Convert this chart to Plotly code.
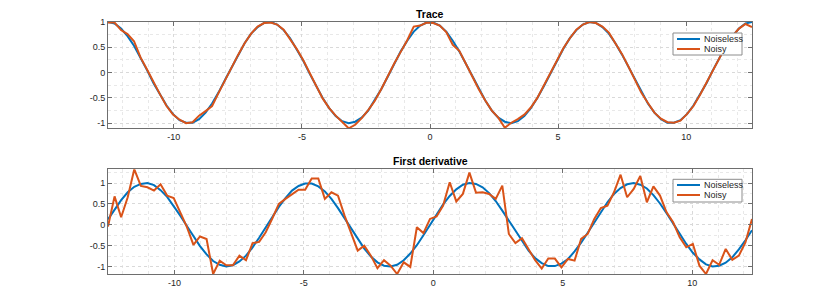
import numpy as np
import plotly.graph_objects as go

# ---------------- data ----------------
trace_x = np.linspace(-4 * np.pi, 4 * np.pi, 100)

trace_noiseless = [1.00, 0.97, 0.87, 0.72, 0.53, 0.30, 0.05, -0.21, -0.44, -0.65,
                   -0.82, -0.94, -0.99, -0.99, -0.92, -0.79, -0.61, -0.39, -0.14, 0.11,
                   0.36, 0.58, 0.77, 0.90, 0.98, 1.00, 0.95, 0.84, 0.68, 0.47,
                   0.24, -0.02, -0.27, -0.50, -0.70, -0.86, -0.96, -1.00, -0.97, -0.89,
                   -0.75, -0.55, -0.33, -0.08, 0.17, 0.42, 0.63, 0.81, 0.93, 0.99,
                   0.99, 0.93, 0.81, 0.63, 0.42, 0.17, -0.08, -0.33, -0.55, -0.75,
                   -0.89, -0.97, -1.00, -0.96, -0.86, -0.70, -0.50, -0.27, -0.02, 0.24,
                   0.47, 0.68, 0.84, 0.95, 1.00, 0.98, 0.90, 0.77, 0.58, 0.36,
                   0.11, -0.14, -0.39, -0.61, -0.79, -0.92, -0.99, -0.99, -0.94, -0.82,
                   -0.65, -0.44, -0.21, 0.05, 0.30, 0.53, 0.72, 0.87, 0.97, 1.00]

trace_noisy = [0.99, 0.99, 0.84, 0.76, 0.62, 0.30, 0.06, -0.20, -0.43, -0.66,
               -0.83, -0.93, -1.00, -0.98, -0.85, -0.76, -0.66, -0.40, -0.14, 0.12,
               0.35, 0.58, 0.77, 0.91, 0.98, 0.99, 0.95, 0.85, 0.67, 0.47,
               0.25, -0.02, -0.26, -0.51, -0.70, -0.85, -0.98, -1.10, -1.03, -0.90,
               -0.74, -0.56, -0.33, -0.07, 0.18, 0.41, 0.64, 0.91, 0.93, 0.99,
               0.98, 0.93, 0.80, 0.55, 0.43, 0.18, -0.08, -0.33, -0.55, -0.75,
               -0.89, -1.09, -0.99, -0.92, -0.83, -0.69, -0.50, -0.26, -0.01, 0.24,
               0.48, 0.68, 0.85, 0.95, 1.00, 0.98, 0.91, 0.79, 0.59, 0.37,
               0.12, -0.15, -0.40, -0.60, -0.79, -0.91, -0.98, -0.99, -0.95, -0.82,
               -0.66, -0.44, -0.20, 0.05, 0.30, 0.53, 0.72, 0.87, 0.96, 0.90]

deriv_x = trace_x[:-1]

deriv_noiseless = [0.13, 0.37, 0.59, 0.78, 0.91, 0.98, 1.00, 0.95, 0.83, 0.67,
                   0.46, 0.22, -0.03, -0.28, -0.51, -0.71, -0.87, -0.96, -1.00, -0.97,
                   -0.88, -0.74, -0.54, -0.31, -0.06, 0.19, 0.43, 0.64, 0.82, 0.93,
                   0.99, 0.99, 0.92, 0.80, 0.62, 0.40, 0.16, -0.10, -0.34, -0.57,
                   -0.76, -0.90, -0.98, -1.00, -0.96, -0.85, -0.69, -0.49, -0.25, 0.00,
                   0.25, 0.49, 0.69, 0.85, 0.96, 1.00, 0.98, 0.90, 0.76, 0.57,
                   0.34, 0.10, -0.16, -0.40, -0.62, -0.80, -0.92, -0.99, -0.99, -0.93,
                   -0.82, -0.64, -0.43, -0.19, 0.06, 0.31, 0.54, 0.74, 0.88, 0.97,
                   1.00, 0.96, 0.87, 0.71, 0.51, 0.28, 0.03, -0.22, -0.46, -0.67,
                   -0.83, -0.95, -1.00, -0.98, -0.91, -0.78, -0.59, -0.37, -0.13]

deriv_noisy = [-0.04, 0.68, 0.18, 0.66, 1.33, 0.93, 0.90, 0.82, 0.97, 0.70,
               0.64, 0.28, -0.05, -0.48, -0.28, -0.34, -1.18, -0.86, -0.97, -0.97,
               -0.74, -0.85, -0.44, -0.41, -0.18, 0.15, 0.50, 0.62, 0.74, 0.84,
               0.84, 1.11, 1.11, 0.62, 0.78, 0.70, 0.22, -0.22, -0.62, -0.50,
               -0.74, -1.04, -0.85, -0.98, -1.18, -0.90, -1.01, -0.06, -0.20, 0.14,
               0.20, 0.46, 1.02, 0.56, 0.74, 1.25, 0.77, 0.78, 0.74, 0.62,
               0.94, -0.22, -0.44, -0.32, -0.58, -0.85, -1.05, -0.81, -0.81, -1.02,
               -0.82, -0.86, -0.34, -0.22, 0.14, 0.40, 0.46, 0.78, 1.20, 0.66,
               0.86, 1.17, 0.54, 0.92, 0.70, 0.30, 0.06, -0.30, -0.54, -0.46,
               -0.98, -1.18, -0.85, -0.96, -0.58, -0.84, -0.74, -0.42, 0.14]

x_tickvals = [-10, -5, 0, 5, 10]
x_ticktext = ["-10", "-5", "0", "5", "10"]
y_tickvals = [-1, -0.5, 0, 0.5, 1]
y_ticktext = ["-1", "-0.5", "0", "0.5", "1"]

titles = ["Trace", "First derivative"]
names = ["Noiseless", "Noisy"]

# ---------------- style ----------------
BLUE = "#0072BD"
ORANGE = "#D95319"
FONT = "Liberation Sans, Arial, sans-serif"
AXC = "#6e6e6e"
GRIDC = "#d9d9d9"
MINORC = "#e8e8e8"
TXT = "#262626"
colors = [BLUE, ORANGE]

W, H = 830, 308
L, R, T, B = 108, 78, 22, 34
PW, PH = W - L - R, H - T - B


def px_x(px):
    return (px - L) / PW


def px_y(py):
    return (H - B - py) / PH


fig = go.Figure()
for i, ys in enumerate([trace_noiseless, trace_noisy]):
    fig.add_trace(go.Scatter(x=trace_x, y=ys, mode="lines", name=names[i],
                             line=dict(color=colors[i], width=2), xaxis="x", yaxis="y",
                             showlegend=False))
for i, ys in enumerate([deriv_noiseless, deriv_noisy]):
    fig.add_trace(go.Scatter(x=deriv_x, y=ys, mode="lines", name=names[i],
                             line=dict(color=colors[i], width=2), xaxis="x2", yaxis="y2",
                             showlegend=False))


def xax(rng, anchor):
    return dict(domain=[0, 1], anchor=anchor, range=rng, tickvals=x_tickvals, ticktext=x_ticktext,
                ticks="inside", ticklen=4, tickcolor=AXC, showline=True, linecolor=AXC, linewidth=1,
                mirror="ticks", showgrid=True, gridcolor=GRIDC, griddash="dot", gridwidth=1,
                zeroline=False, tickfont=dict(family=FONT, size=9, color=TXT),
                minor=dict(dtick=1, tick0=0, showgrid=True, gridcolor=MINORC, griddash="dot"))


def yax(dom, rng, anchor):
    return dict(domain=dom, anchor=anchor, range=rng, tickvals=y_tickvals, ticktext=y_ticktext,
                ticks="inside", ticklen=4, tickcolor=AXC, showline=True, linecolor=AXC, linewidth=1,
                mirror="ticks", showgrid=True, gridcolor=GRIDC, griddash="dot", gridwidth=1,
                zeroline=False, tickfont=dict(family=FONT, size=9, color=TXT),
                minor=dict(dtick=0.25, tick0=0, showgrid=True, gridcolor=MINORC, griddash="dot"))


top_rng = [min(min(trace_noiseless), min(trace_noisy)), max(max(trace_noiseless), max(trace_noisy))]
bot_rng = [min(min(deriv_noiseless), min(deriv_noisy)), max(max(deriv_noiseless), max(deriv_noisy))]

top_dom = [px_y(128.3), 1.0]
bot_dom = [0.0, px_y(169.3)]

# ---- compact MATLAB-style legends (box, line samples, labels) ----
shapes = []
annotations = []
for (box_top, box_bot, rows) in [(33, 55, (39, 49)), (179.3, 202, (185, 195))]:
    shapes.append(dict(type="rect", xref="paper", yref="paper",
                       x0=px_x(673), x1=px_x(742), y0=px_y(box_bot), y1=px_y(box_top),
                       fillcolor="white", line=dict(color="#8c8c8c", width=1), layer="above"))
    for k, ry in enumerate(rows):
        shapes.append(dict(type="line", xref="paper", yref="paper",
                           x0=px_x(677), x1=px_x(700), y0=px_y(ry), y1=px_y(ry),
                           line=dict(color=colors[k], width=2), layer="above"))
        annotations.append(dict(text=names[k], x=px_x(702), y=px_y(ry), xref="paper", yref="paper",
                                xanchor="left", yanchor="middle", showarrow=False,
                                font=dict(family=FONT, size=9, color=TXT)))

for t, dom in zip(titles, [top_dom, bot_dom]):
    annotations.append(dict(text="<b>" + t + "</b>", x=0.5, y=dom[1], xref="paper", yref="paper",
                            xanchor="center", yanchor="bottom", showarrow=False,
                            font=dict(family=FONT, size=10.5, color="black")))

fig.update_layout(
    width=W, height=H, autosize=False,
    margin=dict(l=L, r=R, t=T, b=B),
    paper_bgcolor="white", plot_bgcolor="white",
    font=dict(family=FONT, size=9, color=TXT),
    showlegend=False,
    hovermode=False,
    xaxis=xax([float(trace_x[0]), float(trace_x[-1])], "y"),
    yaxis=yax(top_dom, top_rng, "x"),
    xaxis2=xax([float(deriv_x[0]), float(deriv_x[-1])], "y2"),
    yaxis2=yax(bot_dom, bot_rng, "x2"),
    shapes=shapes,
    annotations=annotations,
)

fig.write_html("out.html", config={"displayModeBar": False},
               post_script="document.body.style.margin='0';")
